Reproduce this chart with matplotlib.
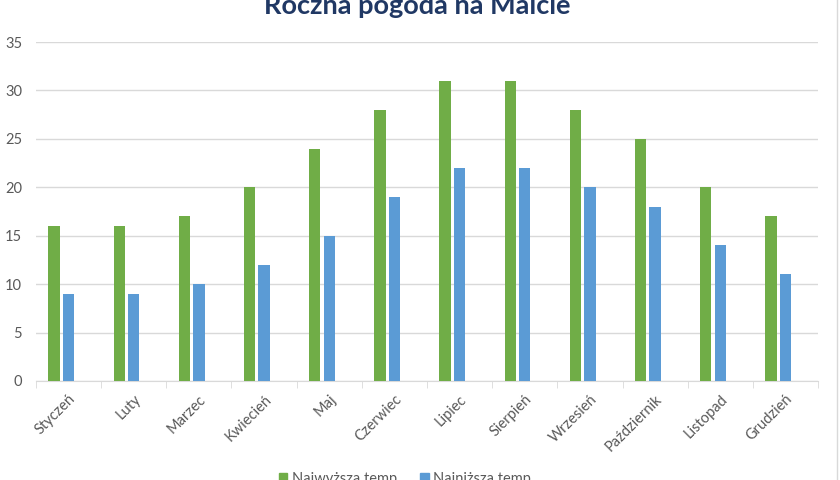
import numpy as np
import matplotlib.pyplot as plt
from matplotlib.lines import Line2D

months = ['Styczeń', 'Luty', 'Marzec', 'Kwiecień', 'Maj', 'Czerwiec', 'Lipiec',
          'Sierpień', 'Wrzesień', 'Październik', 'Listopad', 'Grudzień']
temp_max = [16, 16, 17, 20, 24, 28, 31, 31, 28, 25, 20, 17]
temp_min = [9, 9, 10, 12, 15, 19, 22, 22, 20, 18, 14, 11]
series_names = ['Najwyższa temp', 'Najniższa temp']

green = '#70AD47'
blue = '#5B9BD5'
grid_col = '#D9D9D9'
text_col = '#595959'

plt.rcParams['font.family'] = ['Lato', 'DejaVu Sans']

fig = plt.figure(figsize=(8.4, 4.8), dpi=100)
ax = fig.add_axes([36 / 840, 1 - 381 / 480, 782 / 840, 339 / 480])

x = np.arange(len(months))
w = 0.175
ax.bar(x - 0.222, temp_max, width=w, color=green, label=series_names[0], zorder=3)
ax.bar(x, temp_min, width=w, color=blue, label=series_names[1], zorder=3)

ax.set_xlim(-0.5, len(months) - 0.5)
ax.set_ylim(0, 35)
ax.set_yticks(range(0, 36, 5))
ax.yaxis.grid(True, color=grid_col, linewidth=1)
ax.set_axisbelow(True)
for s in ['top', 'right', 'left']:
    ax.spines[s].set_visible(False)
ax.spines['bottom'].set_color(grid_col)
ax.tick_params(axis='y', length=0, labelsize=10.5, labelcolor=text_col, pad=10)

# category labels at centers, tick marks at boundaries
ax.set_xticks(x)
ax.set_xticklabels(months, rotation=45, ha='right', rotation_mode='anchor',
                   fontsize=10.5, color=text_col)
ax.tick_params(axis='x', length=0, pad=8)
ax.set_xticks(np.arange(-0.5, len(months), 1), minor=True)
ax.tick_params(axis='x', which='minor', length=5, color=grid_col)

fig.text(0.497, 1 - 6 / 480, 'Roczna pogoda na Malcie', ha='center', va='center',
         fontsize=19.5, fontweight='bold', color='#203864')

handles = [plt.Rectangle((0, 0), 1, 1, color=green), plt.Rectangle((0, 0), 1, 1, color=blue)]
fig.legend(handles, series_names, loc='center', bbox_to_anchor=(0.482, 1 - 479 / 480),
           ncol=2, frameon=False, fontsize=10.5, labelcolor=text_col,
           handlelength=0.6, handleheight=0.6, handletextpad=0.3, columnspacing=1.6)

fig.add_artist(Line2D([837 / 840, 837 / 840], [0, 1], color=grid_col, linewidth=1))

fig.savefig('out.png', dpi=100)
